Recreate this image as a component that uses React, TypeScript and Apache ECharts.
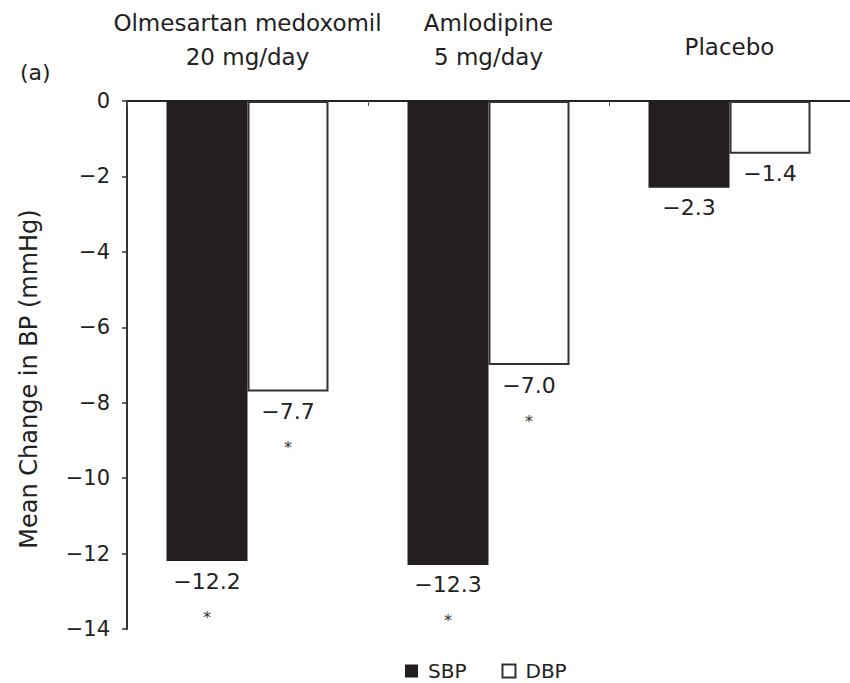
import React, { useEffect, useRef } from "react";
import * as echarts from "echarts";

// Treatment groups (top axis) and mean change in blood pressure (mmHg)
const categories = ["Olmesartan medoxomil\n20 mg/day", "Amlodipine\n5 mg/day", "Placebo"];
const sbpValues = [-12.2, -12.3, -2.3];
const dbpValues = [-7.7, -7.0, -1.4];
// Significance markers (*) vs placebo
const sbpSignificant = [true, true, false];
const dbpSignificant = [true, true, false];
const yTicks = [0, -2, -4, -6, -8, -10, -12, -14];

const FONT = "'DejaVu Sans', Verdana, sans-serif";
const INK = "#231f20";
const TEXT = "#222";

const fmtNum = (v: number) => (v < 0 ? "\u2212" + Math.abs(v).toFixed(1) : v.toFixed(1));

const labelFor = (sig: boolean[]) => ({
  show: true,
  position: "bottom" as const,
  distance: 7,
  formatter: (p: any) => {
    const base = `{v|${fmtNum(p.value)}}`;
    return sig[p.dataIndex] ? `${base}\n{s|*}` : base;
  },
  rich: {
    v: { fontSize: 22, lineHeight: 26, color: TEXT, fontFamily: FONT },
    s: { fontSize: 16, lineHeight: 46, color: "#333", fontFamily: FONT },
  },
});

export default function App() {
  const ref = useRef<HTMLDivElement>(null);

  useEffect(() => {
    if (!ref.current) return;
    const chart = echarts.init(ref.current, null, { renderer: "svg" });
    chart.setOption({
      animation: false,
      backgroundColor: "#fff",
      textStyle: { fontFamily: FONT },
      grid: { left: 127, right: -1, top: 101, bottom: 54, containLabel: false },
      graphic: [
        {
          type: "text",
          left: 20,
          top: 61,
          style: { text: "(a)", fontSize: 22, fill: TEXT, fontFamily: FONT },
        },
      ],
      legend: {
        top: 656,
        left: 400,
        itemWidth: 13,
        itemHeight: 13,
        itemGap: 35,
        icon: "rect",
        textStyle: { fontSize: 20, color: TEXT, fontFamily: FONT, padding: [0, 0, 0, 5] },
        data: ["SBP", "DBP"],
      },
      xAxis: {
        type: "category",
        position: "top",
        data: categories,
        axisLine: { show: true, lineStyle: { color: "#222", width: 2 } },
        axisTick: { show: true, inside: true, length: 5, lineStyle: { color: "#555" } },
        axisLabel: {
          interval: 0,
          hideOverlap: false,
          margin: 27,
          fontSize: 23,
          lineHeight: 34,
          color: TEXT,
          fontFamily: FONT,
          formatter: (v: string) => (v.indexOf("\n") < 0 ? `{p|${v}}` : v),
          rich: {
            p: { fontSize: 23, lineHeight: 34, color: TEXT, fontFamily: FONT, padding: [0, 0, 20, 0] },
          },
        },
      },
      yAxis: {
        type: "value",
        min: -14,
        max: 0,
        interval: 2,
        name: "Mean Change in BP (mmHg)",
        nameLocation: "middle",
        nameGap: 86,
        nameTextStyle: { fontSize: 24, color: TEXT, fontFamily: FONT, padding: [0, 28, 0, 0] },
        axisLine: { show: true, lineStyle: { color: "#333", width: 2 } },
        axisTick: { show: true, length: 5, lineStyle: { color: "#333", width: 1.5 } },
        splitLine: { show: false },
        axisLabel: {
          fontSize: 21,
          color: TEXT,
          margin: 17,
          fontFamily: FONT,
          customValues: yTicks,
          formatter: (v: number) => (v < 0 ? "\u2212" + Math.abs(v) : String(v)),
        },
      },
      series: [
        {
          name: "SBP",
          type: "bar",
          data: sbpValues,
          barWidth: 81,
          barGap: "0%",
          itemStyle: { color: INK },
          label: labelFor(sbpSignificant),
        },
        {
          name: "DBP",
          type: "bar",
          data: dbpValues,
          barWidth: 81,
          barGap: "0%",
          itemStyle: { color: "#fff", borderColor: "#333", borderWidth: 2 },
          label: labelFor(dbpSignificant),
        },
      ],
    });
    return () => chart.dispose();
  }, []);

  return (
    <div
      ref={ref}
      style={{ position: "absolute", left: 0, top: 0, width: 850, height: 683 }}
    />
  );
}
